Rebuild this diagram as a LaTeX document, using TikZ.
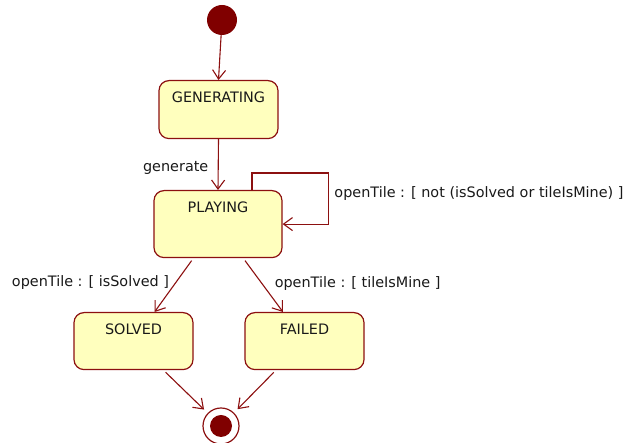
\documentclass[tikz,border=0pt]{standalone}
\usepackage{fontspec}
\setmainfont{DejaVu Sans}
\usetikzlibrary{arrows.meta}
\definecolor{umlred}{RGB}{128,0,0}
\definecolor{umlline}{RGB}{140,16,16}
\definecolor{umlfill}{RGB}{255,255,190}

\begin{document}
\begin{tikzpicture}[x=1pt, y=1pt,
  every node/.style={font=\fontsize{14.4}{17}\selectfont, text=black!90},
  estado/.style={draw=umlline, line width=1.2pt, fill=umlfill, rounded corners=10pt,
    minimum width=119pt, inner xsep=0pt, inner ysep=6pt, text height=16pt, anchor=north},
  trans/.style={draw=umlline, line width=1.1pt, -{Straight Barb[length=9pt,width=13pt]}},
  inicio/.style={circle, fill=umlred, minimum size=30pt, inner sep=0pt},
  fin/.style={circle, draw=umlline, line width=1.2pt, fill=white, minimum size=36pt, inner sep=0pt,
    path picture={\fill[umlred] (path picture bounding box.center) circle (11pt);}}]
  \useasboundingbox (0,0) rectangle (624,443);

  % Estados
  \node[inicio] (init) at (222,423) {};
  \node[estado, text depth=30pt] (gen) at (218.5,363) {GENERATING};
  \node[estado, text depth=39pt, minimum width=128pt] (play) at (218,253) {PLAYING};
  \node[estado, text depth=29pt] (solved) at (133.5,131) {SOLVED};
  \node[estado, text depth=29pt] (failed) at (304.5,131) {FAILED};
  \node[fin] (final) at (221,17) {};

  % Transiciones
  \draw[trans] (init) -- (gen.north);
  \draw[trans] (gen.south) -- (play.north) node (lblGen) [pos=0.56, left=6pt] {generate};
  \draw[trans] ([xshift=34pt]play.north) -- ++(0,17) -| ([xshift=46pt]play.east)
    node (lblLoop) [pos=0.7, right=2pt] {openTile : [ not (isSolved or tileIsMine) ]}
    -- (play.east);
  \draw[trans, shorten <=3pt] (play) -- (solved)
    node (lblSolved) [pos=0.45, left=3pt] {openTile : [ isSolved ]};
  \draw[trans, shorten <=3pt] (play) -- (failed)
    node (lblFailed) [pos=0.47, right=9pt] {openTile : [ tileIsMine ]};

  % Final
  \draw[trans, shorten <=3pt, shorten >=5pt] (solved) -- (final);
  \draw[trans, shorten <=3pt, shorten >=5pt] (failed) -- (final);
\end{tikzpicture}
\end{document}
